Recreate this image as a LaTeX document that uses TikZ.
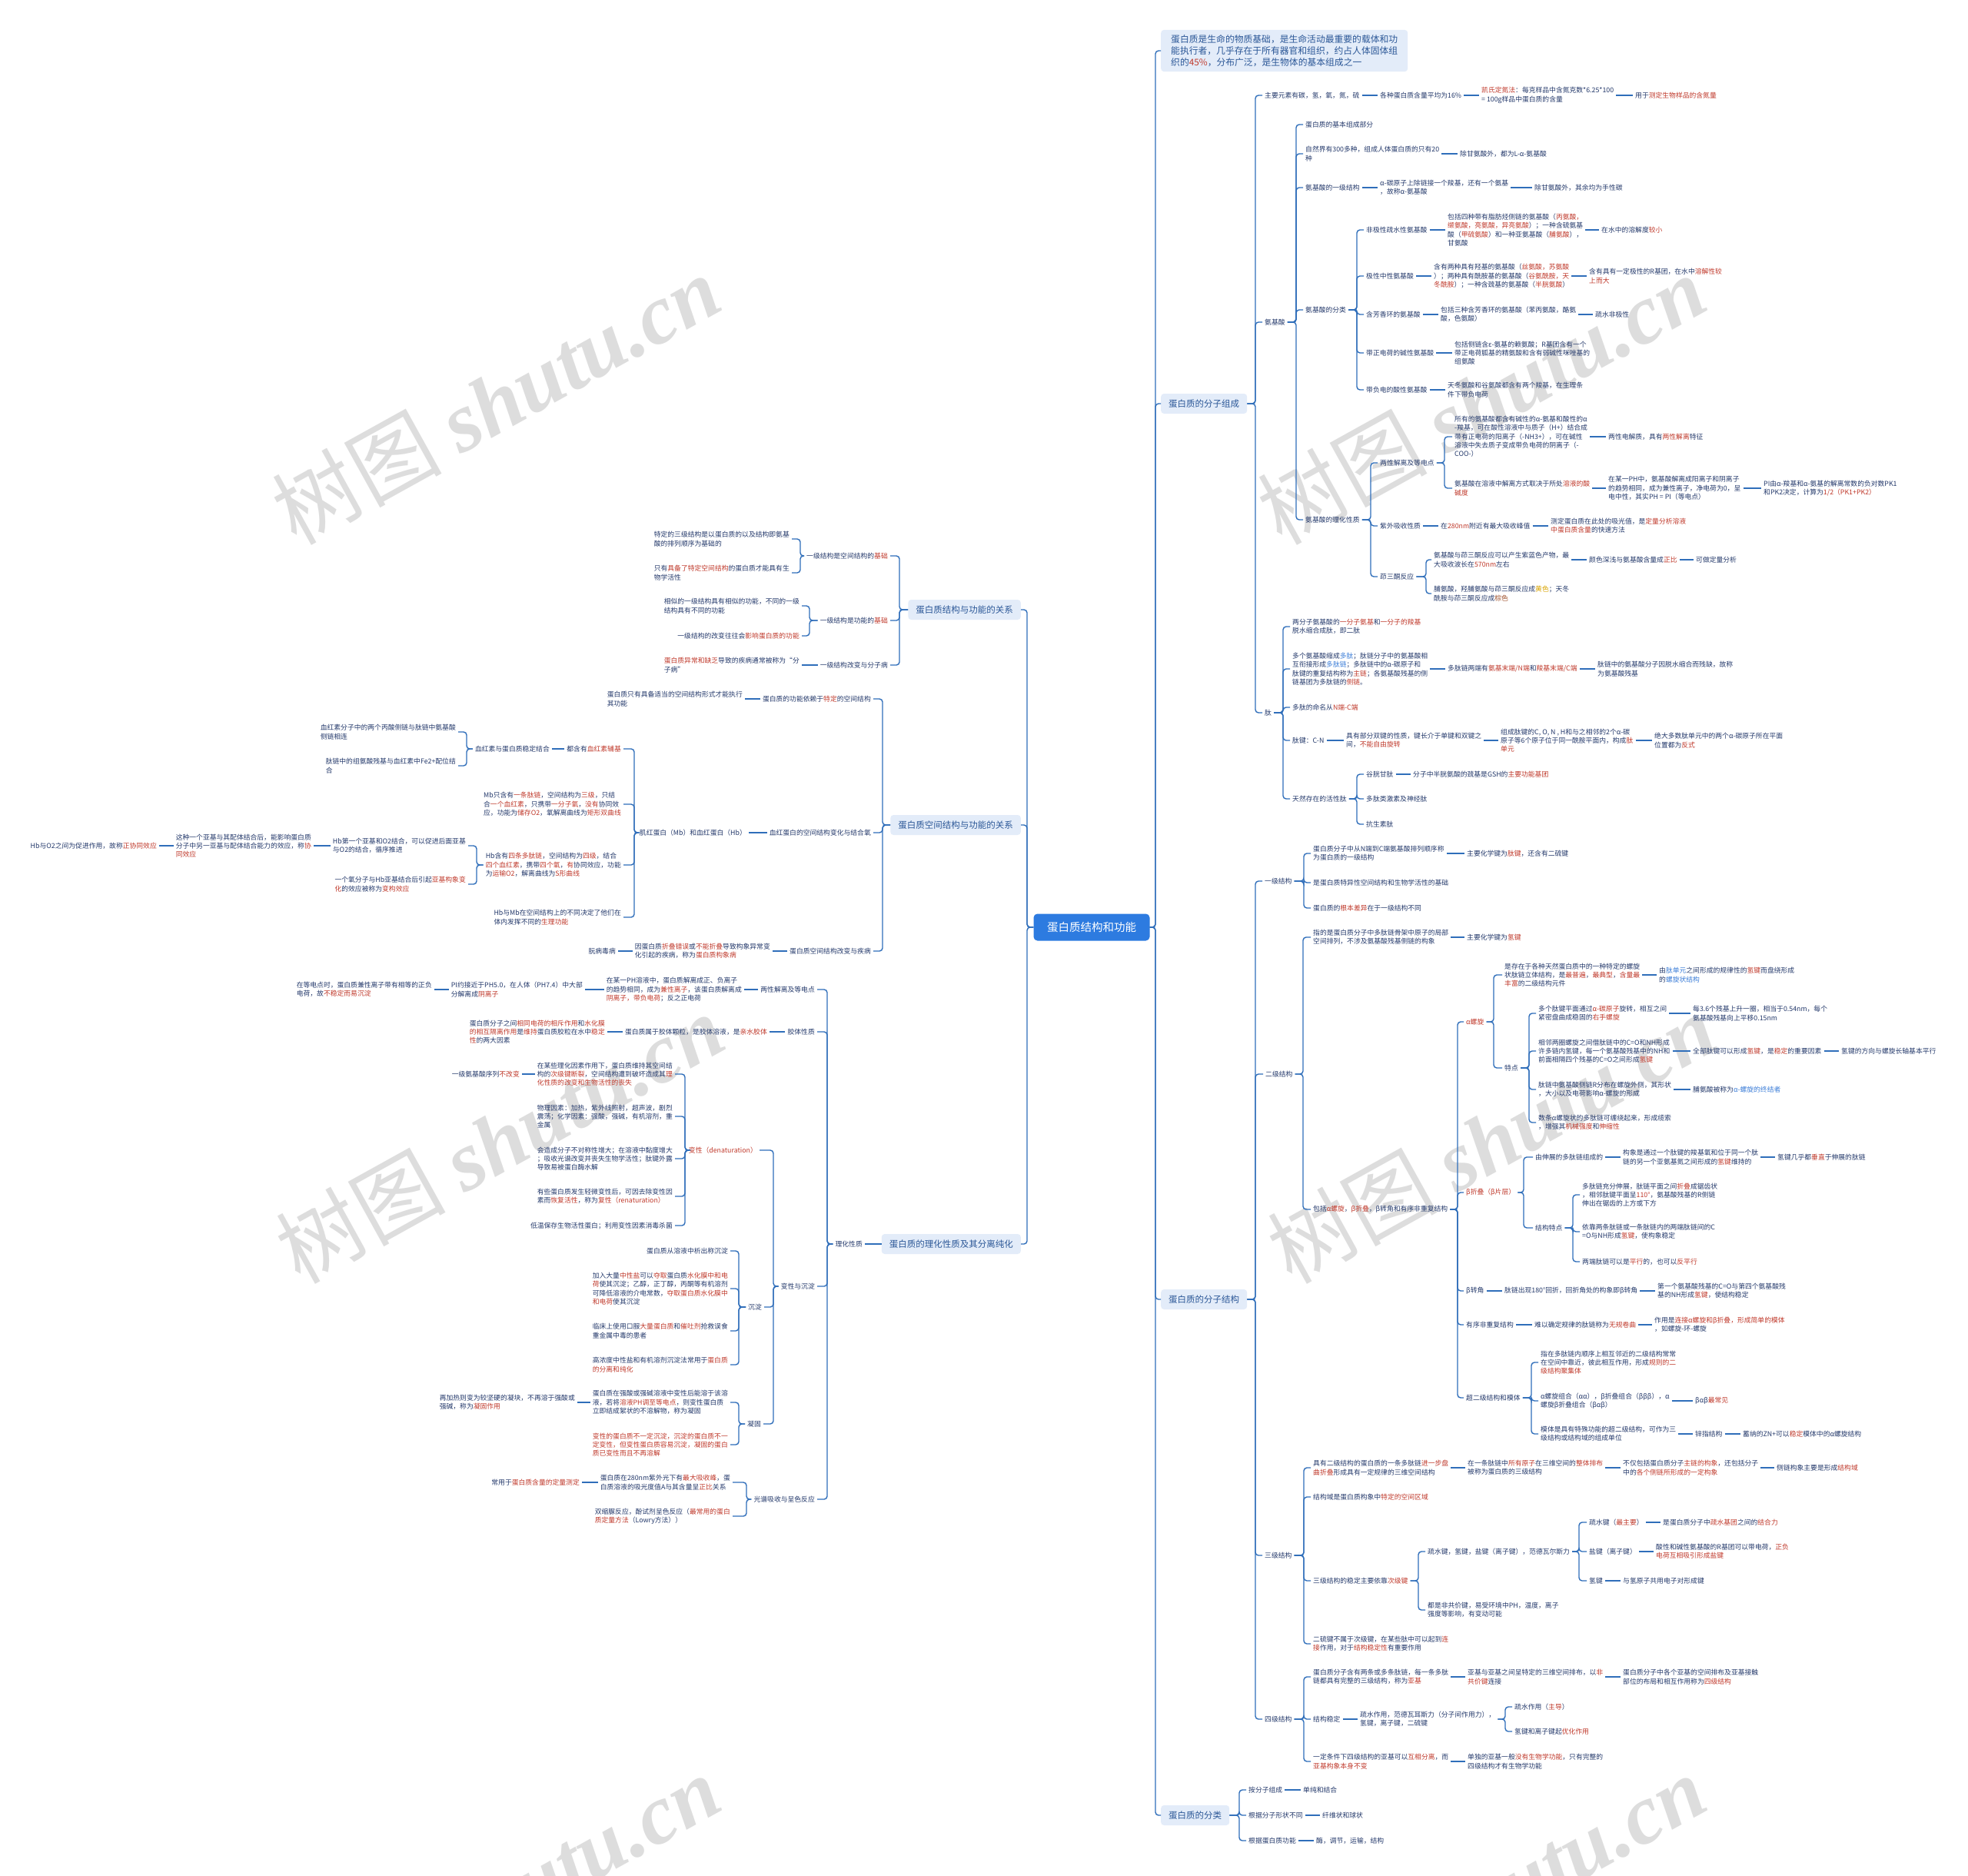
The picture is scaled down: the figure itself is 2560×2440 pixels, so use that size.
\documentclass[tikz,border=0pt]{standalone}
\usepackage{fontspec}
\setmainfont{Noto Sans CJK SC}
\newfontfamily\wmserif{Liberation Serif}
\definecolor{tx}{HTML}{24396B}
\definecolor{hl}{HTML}{C0392B}
\definecolor{hb}{HTML}{3B7DD8}
\definecolor{lc}{HTML}{2F6EBA}
\definecolor{bf}{HTML}{E3ECF9}
\definecolor{bt}{HTML}{2B5797}
\definecolor{rf}{HTML}{2D7BE0}
\definecolor{yl}{HTML}{D9A400}
\definecolor{bn}{HTML}{A0522D}
\newcommand\Rd[1]{\textcolor{hl}{#1}}
\newcommand\Bl[1]{\textcolor{hb}{#1}}
\newcommand\cnR[3]{\path (#3,0) coordinate (tmpx);\draw[conn] (#1.east) -- (#1.east -| tmpx) |- (#2.west);}
\newcommand\cnL[3]{\path (#3,0) coordinate (tmpx);\draw[conn] (#1.west) -- (#1.west -| tmpx) |- (#2.east);}
\newcommand\cnS[2]{\draw[conn] (#1.east) -- (#2.west);}
\newcommand\cnSL[2]{\draw[conn] (#1.west) -- (#2.east);}
\begin{document}
\begin{tikzpicture}[x=1pt,y=-1pt,
 nd/.style={anchor=west, xshift=-3pt, inner xsep=3pt, inner ysep=1pt, align=left, text=tx, font=\fontsize{8.8}{11.3}\selectfont},
 ndl/.style={nd, anchor=east, xshift=3pt},
 br/.style={fill=bf, rounded corners=4pt, text=bt, font=\fontsize{11.5}{14}\selectfont, inner xsep=10pt, inner ysep=0pt, minimum height=26pt},
 root/.style={fill=rf, text=white, rounded corners=5pt, font=\fontsize{14.5}{16}\selectfont, minimum width=151pt, minimum height=35pt, inner sep=0pt},
 conn/.style={draw=lc, line width=1.4pt, rounded corners=4pt},
 wm/.style={text=black!22, text opacity=0.6, font=\fontsize{110}{110}\selectfont, rotate=29}]
\useasboundingbox (0,0) rectangle (2560,2440);
\fill[white] (0,0) rectangle (2560,2440);

% watermarks
\foreach \wx/\wy in {645/519, 1927/519, 650/1480, 1940/1480, 645/2470, 1927/2470}
  \node[wm] at (\wx,\wy) {树图 {\wmserif\bfseries\itshape shutu.cn}};

% root
\node[root] (root) at (1420,1206) {蛋白质结构和功能};

% ===== right main branches
\node[br, anchor=west, align=left, font=\fontsize{11.8}{15}\selectfont, inner xsep=13pt, inner ysep=6.5pt] (intro) at (1510,66) {蛋白质是生命的物质基础，是生命活动最重要的载体和功\\能执行者，几乎存在于所有器官和组织，约占人体固体组\\织的\Rd{45\%}，分布广泛，是生物体的基本组成之一};
\node[br, anchor=west] (rA) at (1510,525) {蛋白质的分子组成};
\node[br, anchor=west] (rB) at (1510,1690) {蛋白质的分子结构};
\node[br, anchor=west] (rC) at (1510,2361) {蛋白质的分类};
\cnR{root}{intro}{1503}\cnR{root}{rA}{1503}\cnR{root}{rB}{1503}\cnR{root}{rC}{1503}

% ----- 分子组成
\node[nd] (a1) at (1645,124) {主要元素有碳，氢，氧，氮，硫};
\node[nd] (a1a) at (1795,124) {各种蛋白质含量平均为16\%};
\node[nd] (a1b) at (1927,124) {\Rd{凯氏定氮法}：每克样品中含氮克数*6.25*100\\= 100g样品中蛋白质的含量};
\node[nd] (a1c) at (2127,124) {用于\Rd{测定生物样品的含氮量}};
\node[nd] (a2) at (1645,419) {氨基酸};
\node[nd] (a21) at (1698,162) {蛋白质的基本组成部分};
\node[nd] (a22) at (1698,200) {自然界有300多种，组成人体蛋白质的只有20\\种};
\node[nd] (a22a) at (1899,200) {除甘氨酸外，都为L-α-氨基酸};
\node[nd] (a23) at (1698,244) {氨基酸的一级结构};
\node[nd] (a23a) at (1795,244) {α-碳原子上除链接一个羧基，还有一个氨基\\，故称α-氨基酸};
\node[nd] (a23b) at (1996,244) {除甘氨酸外，其余均为手性碳};
\node[nd] (a24) at (1698,403) {氨基酸的分类};
\node[nd] (a241) at (1777,299) {非极性疏水性氨基酸};
\node[nd] (a241a) at (1883,299) {包括四种带有脂肪烃侧链的氨基酸（\Rd{丙氨酸，}\\\Rd{缬氨酸，亮氨酸，异亮氨酸}）；一种含硫氨基\\酸（\Rd{甲硫氨酸}）和一种亚氨基酸（\Rd{脯氨酸}），\\甘氨酸};
\node[nd] (a241b) at (2083,299) {在水中的溶解度\Rd{较小}};
\node[nd] (a242) at (1777,359) {极性中性氨基酸};
\node[nd] (a242a) at (1865,359) {含有两种具有羟基的氨基酸（\Rd{丝氨酸，苏氨酸}\\）；两种具有酰胺基的氨基酸（\Rd{谷氨酰胺，天}\\\Rd{冬酰胺}）；一种含巯基的氨基酸（\Rd{半胱氨酸}）};
\node[nd] (a242b) at (2067,359) {含有具有一定极性的R基团，在水中\Rd{溶解性较}\\\Rd{上而大}};
\node[nd] (a243) at (1777,409) {含芳香环的氨基酸};
\node[nd] (a243a) at (1874,409) {包括三种含芳香环的氨基酸（苯丙氨酸，酪氨\\酸，色氨酸）};
\node[nd] (a243b) at (2075,409) {疏水非极性};
\node[nd] (a244) at (1777,459) {带正电荷的碱性氨基酸};
\node[nd] (a244a) at (1892,459) {包括侧链含ε-氨基的赖氨酸；R基团含有一个\\带正电荷胍基的精氨酸和含有弱碱性咪唑基的\\组氨酸};
\node[nd] (a245) at (1777,507) {带负电的酸性氨基酸};
\node[nd] (a245a) at (1883,507) {天冬氨酸和谷氨酸都含有两个羧基，在生理条\\件下带负电荷};
\node[nd] (a25) at (1698,676) {氨基酸的理化性质};
\node[nd] (a251) at (1795,602) {两性解离及等电点};
\node[nd] (a2511) at (1892,568) {所有的氨基酸都含有碱性的α-氨基和酸性的α\\-羧基，可在酸性溶液中与质子（H+）结合成\\带有正电荷的阳离子（-NH3+），可在碱性\\溶液中失去质子变成带负电荷的阴离子（-\\COO-）};
\node[nd] (a2511a) at (2092,568) {两性电解质，具有\Rd{两性解离}特征};
\node[nd] (a2512) at (1892,635) {氨基酸在溶液中解离方式取决于所处\Rd{溶液的酸}\\\Rd{碱度}};
\node[nd] (a2512a) at (2092,635) {在某一PH中，氨基酸解离成阳离子和阴离子\\的趋势相同，成为兼性离子，净电荷为0，呈\\电中性，其实PH = PI（等电点）};
\node[nd] (a2512b) at (2294,635) {PI由α-羧基和α-氨基的解离常数的负对数PK1\\和PK2决定，计算为\Rd{1/2（PK1+PK2）}};
\node[nd] (a252) at (1795,684) {紫外吸收性质};
\node[nd] (a252a) at (1874,684) {在\Rd{280nm}附近有最大吸收峰值};
\node[nd] (a252b) at (2017,684) {测定蛋白质在此处的吸光值，是\Rd{定量分析溶液}\\\Rd{中蛋白质含量}的快速方法};
\node[nd] (a253) at (1795,750) {茚三酮反应};
\node[nd] (a2531) at (1865,728) {氨基酸与茚三酮反应可以产生紫蓝色产物，最\\大吸收波长在\Rd{570nm}左右};
\node[nd] (a2531a) at (2067,728) {颜色深浅与氨基酸含量成\Rd{正比}};
\node[nd] (a2531b) at (2206,728) {可做定量分析};
\node[nd] (a2532) at (1865,772) {脯氨酸，羟脯氨酸与茚三酮反应成\textcolor{yl}{黄色}；天冬\\酰胺与茚三酮反应成\textcolor{bn}{棕色}};
\node[nd] (a3) at (1645,927) {肽};
\node[nd] (a31) at (1681,815) {两分子氨基酸的\Rd{一分子氨基}和\Rd{一分子的羧基}\\脱水缩合成肽，即二肽};
\node[nd] (a32) at (1681,870) {多个氨基酸缩成\Bl{多肽}；肽链分子中的氨基酸相\\互衔接形成\Bl{多肽链}；多肽链中的α-碳原子和\\肽键的重复结构称为\Rd{主链}；各氨基酸残基的侧\\链基团为多肽链的\Rd{侧链}。};
\node[nd] (a32a) at (1883,870) {多肽链两端有\Rd{氨基末端/N端}和\Rd{羧基末端/C端}};
\node[nd] (a32b) at (2078,870) {肽链中的氨基酸分子因脱水缩合而残缺，故称\\为氨基酸残基};
\node[nd] (a33) at (1681,920) {多肽的命名从\Rd{N端-C端}};
\node[nd] (a34) at (1681,963) {肽键：C-N};
\node[nd] (a34a) at (1751,963) {具有部分双键的性质，键长介于单键和双键之\\间，\Rd{不能自由旋转}};
\node[nd] (a34b) at (1952,963) {组成肽键的C, O, N , H和与之相邻的2个α-碳\\原子等6个原子位于同一酰胺平面内，构成\Rd{肽}\\\Rd{单元}};
\node[nd] (a34c) at (2152,963) {绝大多数肽单元中的两个α-碳原子所在平面\\位置都为\Rd{反式}};
\node[nd] (a35) at (1681,1039) {天然存在的活性肽};
\node[nd] (a351) at (1777,1007) {谷胱甘肽};
\node[nd] (a351a) at (1838,1007) {分子中半胱氨酸的巯基是GSH的\Rd{主要功能基团}};
\node[nd] (a352) at (1777,1039) {多肽类激素及神经肽};
\node[nd] (a353) at (1777,1072) {抗生素肽};

\cnR{rA}{a1}{1633}\cnR{rA}{a2}{1633}\cnR{rA}{a3}{1633}
\cnS{a1}{a1a}\cnS{a1a}{a1b}\cnS{a1b}{a1c}
\cnR{a2}{a21}{1686}\cnR{a2}{a22}{1686}\cnR{a2}{a23}{1686}\cnR{a2}{a24}{1686}\cnR{a2}{a25}{1686}
\cnS{a22}{a22a}\cnS{a23}{a23a}\cnS{a23a}{a23b}
\cnR{a24}{a241}{1765}\cnR{a24}{a242}{1765}\cnR{a24}{a243}{1765}\cnR{a24}{a244}{1765}\cnR{a24}{a245}{1765}
\cnS{a241}{a241a}\cnS{a241a}{a241b}\cnS{a242}{a242a}\cnS{a242a}{a242b}\cnS{a243}{a243a}\cnS{a243a}{a243b}\cnS{a244}{a244a}\cnS{a245}{a245a}
\cnR{a25}{a251}{1783}\cnR{a25}{a252}{1783}\cnR{a25}{a253}{1783}
\cnR{a251}{a2511}{1879}\cnR{a251}{a2512}{1879}
\cnS{a2511}{a2511a}\cnS{a2512}{a2512a}\cnS{a2512a}{a2512b}
\cnS{a252}{a252a}\cnS{a252a}{a252b}
\cnR{a253}{a2531}{1855}\cnR{a253}{a2532}{1855}
\cnS{a2531}{a2531a}\cnS{a2531a}{a2531b}
\cnR{a3}{a31}{1669}\cnR{a3}{a32}{1669}\cnR{a3}{a33}{1669}\cnR{a3}{a34}{1669}\cnR{a3}{a35}{1669}
\cnS{a32}{a32a}\cnS{a32a}{a32b}\cnS{a34}{a34a}\cnS{a34a}{a34b}\cnS{a34b}{a34c}
\cnR{a35}{a351}{1765}\cnR{a35}{a352}{1765}\cnR{a35}{a353}{1765}
\cnS{a351}{a351a}

% ----- 分子结构
\node[nd] (b1) at (1645,1146) {一级结构};
\node[nd] (b11) at (1708,1110) {蛋白质分子中从N端到C端氨基酸排列顺序称\\为蛋白质的一级结构};
\node[nd] (b11a) at (1908,1110) {主要化学键为\Rd{肽键}，还含有二硫键};
\node[nd] (b12) at (1708,1148) {是蛋白质特异性空间结构和生物学活性的基础};
\node[nd] (b13) at (1708,1181) {蛋白质的\Rd{根本差异}在于一级结构不同};
\node[nd] (b2) at (1646,1397) {二级结构};
\node[nd] (b21) at (1708,1219) {指的是蛋白质分子中多肽链骨架中原子的局部\\空间排列，不涉及氨基酸残基侧链的构象};
\node[nd] (b21a) at (1908,1219) {主要化学键为\Rd{氢键}};
\node[nd] (b22) at (1708,1573) {包括\Rd{α螺旋}，\Rd{β折叠}，β转角和有序非重复结构};
\node[nd] (b221) at (1907,1329) {\Rd{α螺旋}};
\node[nd] (b2211) at (1957,1268) {是存在于各种天然蛋白质中的一种特定的螺旋\\状肽链立体结构，是\Rd{最普遍}，\Rd{最典型}，\Rd{含量最}\\\Rd{丰富}的二级结构元件};
\node[nd] (b2211a) at (2158,1268) {由\Bl{肽单元}之间形成的规律性的\Rd{氢键}而盘绕形成\\的\Bl{螺旋状结构}};
\node[nd] (b2212) at (1957,1389) {特点};
\node[nd] (b22121) at (2001,1318) {多个肽键平面通过\Rd{α-碳原子}旋转，相互之间\\紧密盘曲成稳固的\Rd{右手螺旋}};
\node[nd] (b22121a) at (2202,1318) {每3.6个残基上升一圈，相当于0.54nm，每个\\氨基酸残基向上平移0.15nm};
\node[nd] (b22122) at (2001,1367) {相邻两圈螺旋之间借肽链中的C=O和NH形成\\许多链内氢键，每一个氨基酸残基中的NH和\\前面相隔四个残基的C=O之间形成\Rd{氢键}};
\node[nd] (b22122a) at (2202,1367) {全部肽键可以形成\Rd{氢键}，是\Rd{稳定}的重要因素};
\node[nd] (b22122b) at (2395,1367) {氢键的方向与螺旋长轴基本平行};
\node[nd] (b22123) at (2001,1417) {肽链中氨基酸侧链R分布在螺旋外侧，其形状\\，大小以及电荷影响α-螺旋的形成};
\node[nd] (b22123a) at (2202,1417) {脯氨酸被称为\Bl{α-螺旋的终结者}};
\node[nd] (b22124) at (2001,1460) {数条α螺旋状的多肽链可缠绕起来，形成缆索\\，增强其\Rd{机械强度}和\Rd{伸缩性}};
\node[nd] (b222) at (1907,1551) {\Rd{β折叠（β片层）}};
\node[nd] (b2221) at (1997,1505) {由伸展的多肽链组成的};
\node[nd] (b2221a) at (2111,1505) {构象是通过一个肽键的羧基氧和位于同一个肽\\链的另一个亚氨基氮之间形成的\Rd{氢键}维持的};
\node[nd] (b2221b) at (2312,1505) {氢键几乎都\Rd{垂直}于伸展的肽链};
\node[nd] (b2222) at (1997,1597) {结构特点};
\node[nd] (b22221) at (2058,1554) {多肽链充分伸展，肽链平面之间\Rd{折叠}成锯齿状\\，相邻肽键平面呈\Rd{110°}，氨基酸残基的R侧链\\伸出在锯齿的上方或下方};
\node[nd] (b22222) at (2058,1602) {依靠两条肽链或一条肽链内的两端肽链间的C\\=O与NH形成\Rd{氢键}，使构象稳定};
\node[nd] (b22223) at (2058,1641) {两端肽链可以是\Rd{平行}的，也可以\Rd{反平行}};
\node[nd] (b223) at (1907,1679) {β转角};
\node[nd] (b223a) at (1957,1679) {肽链出现180°回折，回折角处的构象即β转角};
\node[nd] (b223b) at (2156,1679) {第一个氨基酸残基的C=O与第四个氨基酸残\\基的NH形成\Rd{氢键}，使结构稳定};
\node[nd] (b224) at (1907,1723) {有序非重复结构};
\node[nd] (b224a) at (1996,1723) {难以确定规律的肽链称为\Rd{无规卷曲}};
\node[nd] (b224b) at (2152,1723) {作用是\Rd{连接α螺旋和β折叠，形成简单的模体}\\，如螺旋-环-螺旋};
\node[nd] (b225) at (1907,1818) {超二级结构和模体};
\node[nd] (b2251) at (2004,1772) {指在多肽链内顺序上相互邻近的二级结构常常\\在空间中靠近，彼此相互作用，形成\Rd{规则的二}\\\Rd{级结构聚集体}};
\node[nd] (b2252) at (2004,1822) {α螺旋组合（αα），β折叠组合（βββ），α\\螺旋β折叠组合（βαβ）};
\node[nd] (b2252a) at (2205,1822) {βαβ\Rd{最常见}};
\node[nd] (b2253) at (2004,1865) {模体是具有特殊功能的超二级结构，可作为三\\级结构或结构域的组成单位};
\node[nd] (b2253a) at (2205,1865) {锌指结构};
\node[nd] (b2253b) at (2267,1865) {蓄纳的ZN+可以\Rd{稳定}模体中的α螺旋结构};
\node[nd] (b3) at (1645,2023) {三级结构};
\node[nd] (b31) at (1708,1909) {具有二级结构的蛋白质的一条多肽链\Rd{进一步盘}\\\Rd{曲折叠}形成具有一定规律的三维空间结构};
\node[nd] (b31a) at (1909,1909) {在一条肽链中\Rd{所有原子}在三维空间的\Rd{整体排布}\\被称为蛋白质的三级结构};
\node[nd] (b31b) at (2111,1909) {不仅包括蛋白质分子\Rd{主链的构象}，还包括分子\\中的\Rd{各个侧链所形成的一定构象}};
\node[nd] (b31c) at (2311,1909) {侧链构象主要是形成\Rd{结构域}};
\node[nd] (b32) at (1708,1947) {结构域是蛋白质构象中\Rd{特定的空间区域}};
\node[nd] (b33) at (1708,2056) {三级结构的稳定主要依靠\Rd{次级键}};
\node[nd] (b331) at (1857,2018) {疏水键，氢键，盐键（离子键），范德瓦尔斯力};
\node[nd] (b3311) at (2067,1980) {疏水键（\Rd{最主要}）};
\node[nd] (b3311a) at (2163,1980) {是蛋白质分子中\Rd{疏水基团}之间的\Rd{结合力}};
\node[nd] (b3312) at (2067,2018) {盐键（离子键）};
\node[nd] (b3312a) at (2154,2018) {酸性和碱性氨基酸的R基团可以带电荷，\Rd{正负}\\\Rd{电荷互相吸引形成盐键}};
\node[nd] (b3313) at (2067,2056) {氢键};
\node[nd] (b3313a) at (2111,2056) {与氢原子共用电子对形成键};
\node[nd] (b332) at (1857,2094) {都是非共价键，易受环境中PH，温度，离子\\强度等影响，有变动可能};
\node[nd] (b34) at (1708,2138) {二硫键不属于次级键，在某些肽中可以起到\Rd{连}\\\Rd{接}作用，对于\Rd{结构稳定性}有重要作用};
\node[nd] (b4) at (1645,2236) {四级结构};
\node[nd] (b41) at (1708,2181) {蛋白质分子含有两条或多条肽链，每一条多肽\\链都具有完整的三级结构，称为\Rd{亚基}};
\node[nd] (b41a) at (1909,2181) {亚基与亚基之间呈特定的三维空间排布，以\Rd{非}\\\Rd{共价键}连接};
\node[nd] (b41b) at (2111,2181) {蛋白质分子中各个亚基的空间排布及亚基接触\\部位的布局和相互作用称为\Rd{四级结构}};
\node[nd] (b42) at (1708,2236) {结构稳定};
\node[nd] (b42a) at (1769,2236) {疏水作用，范德瓦耳斯力（分子间作用力），\\氢键，离子键，二硫键};
\node[nd] (b42a1) at (1970,2220) {疏水作用（\Rd{主导}）};
\node[nd] (b42a2) at (1970,2252) {氢键和离子键起\Rd{优化作用}};
\node[nd] (b43) at (1708,2291) {一定条件下四级结构的亚基可以\Rd{互相分离}，而\\\Rd{亚基构象本身不变}};
\node[nd] (b43a) at (1909,2291) {单独的亚基一般\Rd{没有生物学功能}，只有完整的\\四级结构才有生物学功能};

\cnR{rB}{b1}{1633}\cnR{rB}{b2}{1633}\cnR{rB}{b3}{1633}\cnR{rB}{b4}{1633}
\cnR{b1}{b11}{1696}\cnR{b1}{b12}{1696}\cnR{b1}{b13}{1696}\cnS{b11}{b11a}
\cnR{b2}{b21}{1695}\cnR{b2}{b22}{1695}\cnS{b21}{b21a}
\cnR{b22}{b221}{1896}\cnR{b22}{b222}{1896}\cnR{b22}{b223}{1896}\cnR{b22}{b224}{1896}\cnR{b22}{b225}{1896}
\cnR{b221}{b2211}{1943}\cnR{b221}{b2212}{1943}\cnS{b2211}{b2211a}
\cnR{b2212}{b22121}{1989}\cnR{b2212}{b22122}{1989}\cnR{b2212}{b22123}{1989}\cnR{b2212}{b22124}{1989}
\cnS{b22121}{b22121a}\cnS{b22122}{b22122a}\cnS{b22122a}{b22122b}\cnS{b22123}{b22123a}
\cnR{b222}{b2221}{1982}\cnR{b222}{b2222}{1982}\cnS{b2221}{b2221a}\cnS{b2221a}{b2221b}
\cnR{b2222}{b22221}{2046}\cnR{b2222}{b22222}{2046}\cnR{b2222}{b22223}{2046}
\cnS{b223}{b223a}\cnS{b223a}{b223b}\cnS{b224}{b224a}\cnS{b224a}{b224b}
\cnR{b225}{b2251}{1992}\cnR{b225}{b2252}{1992}\cnR{b225}{b2253}{1992}
\cnS{b2252}{b2252a}\cnS{b2253}{b2253a}\cnS{b2253a}{b2253b}
\cnR{b3}{b31}{1696}\cnR{b3}{b32}{1696}\cnR{b3}{b33}{1696}\cnR{b3}{b34}{1696}
\cnS{b31}{b31a}\cnS{b31a}{b31b}\cnS{b31b}{b31c}
\cnR{b33}{b331}{1845}\cnR{b33}{b332}{1845}
\cnR{b331}{b3311}{2054}\cnR{b331}{b3312}{2054}\cnR{b331}{b3313}{2054}
\cnS{b3311}{b3311a}\cnS{b3312}{b3312a}\cnS{b3313}{b3313a}
\cnR{b4}{b41}{1696}\cnR{b4}{b42}{1696}\cnR{b4}{b43}{1696}
\cnS{b41}{b41a}\cnS{b41a}{b41b}\cnS{b42}{b42a}\cnS{b43}{b43a}
\cnR{b42a}{b42a1}{1958}\cnR{b42a}{b42a2}{1958}

% ----- 分类
\node[nd] (c1) at (1624,2328) {按分子组成};
\node[nd] (c1a) at (1695,2328) {单纯和结合};
\node[nd] (c2) at (1624,2361) {根据分子形状不同};
\node[nd] (c2a) at (1720,2361) {纤维状和球状};
\node[nd] (c3) at (1624,2394) {根据蛋白质功能};
\node[nd] (c3a) at (1712,2394) {酶，调节，运输，结构};
\cnR{rC}{c1}{1612}\cnR{rC}{c2}{1612}\cnR{rC}{c3}{1612}
\cnS{c1}{c1a}\cnS{c2}{c2a}\cnS{c3}{c3a}

% ===== left main branches
\node[br, anchor=east] (L1) at (1328,793) {蛋白质结构与功能的关系};
\node[br, anchor=east] (L2) at (1328,1073) {蛋白质空间结构与功能的关系};
\node[br, anchor=east] (L3) at (1328,1618) {蛋白质的理化性质及其分离纯化};
\cnL{root}{L1}{1336}\cnL{root}{L2}{1336}\cnL{root}{L3}{1336}

\node[ndl] (L11) at (1158,723) {一级结构是空间结构的\Rd{基础}};
\node[ndl] (L111) at (1030,701) {特定的三级结构是以蛋白质的以及结构即氨基\\酸的排列顺序为基础的};
\node[ndl] (L112) at (1030,745) {只有\Rd{具备了特定空间结构}的蛋白质才能具有生\\物学活性};
\node[ndl] (L12) at (1158,807) {一级结构是功能的\Rd{基础}};
\node[ndl] (L121) at (1043,788) {相似的一级结构具有相似的功能，不同的一级\\结构具有不同的功能};
\node[ndl] (L122) at (1043,827) {一级结构的改变往往会\Rd{影响蛋白质的功能}};
\node[ndl] (L13) at (1158,865) {一级结构改变与分子病};
\node[ndl] (L13a) at (1043,865) {\Rd{蛋白质异常和缺乏}导致的疾病通常被称为“分\\子病”};
\cnL{L1}{L11}{1170}\cnL{L1}{L12}{1170}\cnL{L1}{L13}{1170}
\cnL{L11}{L111}{1041}\cnL{L11}{L112}{1041}
\cnL{L12}{L121}{1053}\cnL{L12}{L122}{1053}
\cnSL{L13}{L13a}

\node[ndl] (L21) at (1136,909) {蛋白质的功能依赖于\Rd{特定}的空间结构};
\node[ndl] (L21a) at (969,909) {蛋白质只有具备适当的空间结构形式才能执行\\其功能};
\node[ndl] (L22) at (1136,1083) {血红蛋白的空间结构变化与结合氧};
\node[ndl] (L22a) at (974,1083) {肌红蛋白（Mb）和血红蛋白（Hb）};
\node[ndl] (L22a1) at (811,974) {都含有\Rd{血红素辅基}};
\node[ndl] (L22a1a) at (718,974) {血红素与蛋白质稳定结合};
\node[ndl] (L22a1a1) at (596,952) {血红素分子中的两个丙酸侧链与肽链中氨基酸\\侧链相连};
\node[ndl] (L22a1a2) at (596,996) {肽链中的组氨酸残基与血红素中Fe2+配位结\\合};
\node[ndl] (L22a2) at (811,1046) {Mb只含有\Rd{一条肽链}，空间结构为\Rd{三级}，只结\\合\Rd{一个血红素}，只携带\Rd{一分子氧}，\Rd{没有}协同效\\应，功能为\Rd{储存O2}，氧解离曲线为\Rd{矩形双曲线}};
\node[ndl] (L22a3) at (811,1125) {Hb含有\Rd{四条多肽链}，空间结构为\Rd{四级}，结合\\\Rd{四个血红素}，携带\Rd{四个氧}，\Rd{有}协同效应，功能\\为\Rd{运输O2}，解离曲线为\Rd{S形曲线}};
\node[ndl] (L22a31) at (609,1100) {Hb第一个亚基和O2结合，可以促进后面亚基\\与O2的结合，循序推进};
\node[ndl] (L22a31a) at (408,1100) {这种一个亚基与其配体结合后，能影响蛋白质\\分子中另一亚基与配体结合能力的效应，称\Rd{协}\\\Rd{同效应}};
\node[ndl] (L22a31b) at (207,1100) {Hb与O2之间为促进作用，故称\Rd{正协同效应}};
\node[ndl] (L22a32) at (609,1150) {一个氧分子与Hb亚基结合后引起\Rd{亚基构象变}\\\Rd{化}的效应被称为\Rd{变构效应}};
\node[ndl] (L22a4) at (811,1193) {Hb与Mb在空间结构上的不同决定了他们在\\体内发挥不同的\Rd{生理功能}};
\node[ndl] (L23) at (1136,1237) {蛋白质空间结构改变与疾病};
\node[ndl] (L23a) at (1005,1237) {因蛋白质\Rd{折叠错误}或\Rd{不能折叠}导致构象异常变\\化引起的疾病，称为\Rd{蛋白质构象病}};
\node[ndl] (L23b) at (804,1237) {朊病毒病};
\cnL{L2}{L21}{1148}\cnL{L2}{L22}{1148}\cnL{L2}{L23}{1148}
\cnSL{L21}{L21a}\cnSL{L22}{L22a}
\cnL{L22a}{L22a1}{825}\cnL{L22a}{L22a2}{825}\cnL{L22a}{L22a3}{825}\cnL{L22a}{L22a4}{825}
\cnSL{L22a1}{L22a1a}
\cnL{L22a1a}{L22a1a1}{607}\cnL{L22a1a}{L22a1a2}{607}
\cnL{L22a3}{L22a31}{620}\cnL{L22a3}{L22a32}{620}
\cnSL{L22a31}{L22a31a}\cnSL{L22a31a}{L22a31b}
\cnSL{L23}{L23a}\cnSL{L23a}{L23b}

\node[ndl] (L31) at (1125,1618) {理化性质};
\node[ndl] (L311) at (1063,1287) {两性解离及等电点};
\node[ndl] (L311a) at (968,1287) {在某一PH溶液中，蛋白质解离成正、负离子\\的趋势相同，成为\Rd{兼性离子}，该蛋白质解离成\\\Rd{阴离子，带负电荷}；反之正电荷};
\node[ndl] (L311b) at (761,1287) {PI约接近于PH5.0，在人体（PH7.4）中大部\\分解离成\Rd{阴离子}};
\node[ndl] (L311c) at (565,1287) {在等电点时，蛋白质兼性离子带有相等的正负\\电荷，故\Rd{不稳定而易沉淀}};
\node[ndl] (L312) at (1063,1342) {胶体性质};
\node[ndl] (L312a) at (1001,1342) {蛋白质属于胶体颗粒，是胶体溶液，是\Rd{亲水胶体}};
\node[ndl] (L312b) at (790,1342) {蛋白质分子之间\Rd{相同电荷的相斥作用}和\Rd{水化膜}\\\Rd{的相互隔离作用}是\Rd{维持}蛋白质胶粒在水中\Rd{稳定}\\\Rd{性}的两大因素};
\node[ndl] (L313) at (1063,1673) {变性与沉淀};
\node[ndl] (L3131) at (988,1496) {\Rd{变性（denaturation）}};
\node[ndl] (L31311) at (878,1397) {在某些理化因素作用下，蛋白质维持其空间结\\构的\Rd{次级键断裂}，空间结构遭到破坏造成其\Rd{理}\\\Rd{化性质的改变和生物活性的丧失}};
\node[ndl] (L31311a) at (679,1397) {一级氨基酸序列\Rd{不改变}};
\node[ndl] (L31312) at (878,1452) {物理因素：加热，紫外线照射，超声波，剧烈\\震荡；化学因素：强酸，强碱，有机溶剂，重\\金属};
\node[ndl] (L31313) at (878,1507) {会造成分子不对称性增大；在溶液中黏度增大\\；吸收光谱改变并丧失生物学活性；肽键外露\\导致易被蛋白酶水解};
\node[ndl] (L31314) at (878,1556) {有些蛋白质发生轻微变性后，可因去除变性因\\素而\Rd{恢复活性}，称为\Rd{复性（renaturation）}};
\node[ndl] (L31315) at (878,1594) {低温保存生物活性蛋白；利用变性因素消毒杀菌};
\node[ndl] (L3132) at (994,1700) {沉淀};
\node[ndl] (L31321) at (950,1627) {蛋白质从溶液中析出称沉淀};
\node[ndl] (L31322) at (950,1676) {加入大量\Rd{中性盐}可以\Rd{夺取}蛋白质\Rd{水化膜中和电}\\\Rd{荷}使其沉淀；乙醇，正丁醇，丙酮等有机溶剂\\可降低溶液的介电常数，\Rd{夺取蛋白质水化膜中}\\\Rd{和电荷}使其沉淀};
\node[ndl] (L31323) at (950,1731) {临床上使用口服\Rd{大量蛋白质}和\Rd{催吐剂}抢救误食\\重金属中毒的患者};
\node[ndl] (L31324) at (950,1775) {高浓度中性盐和有机溶剂沉淀法常用于\Rd{蛋白质}\\\Rd{的分离和纯化}};
\node[ndl] (L3133) at (993,1852) {凝固};
\node[ndl] (L31331) at (950,1824) {蛋白质在强酸或强碱溶液中变性后能溶于该溶\\液，若将\Rd{溶液PH调至等电点}，则变性蛋白质\\立即结成絮状的不溶解物，称为凝固};
\node[ndl] (L31331a) at (751,1824) {再加热则变为较坚硬的凝块，不再溶于强酸或\\强碱，称为\Rd{凝固作用}};
\node[ndl] (L31332) at (950,1879) {\Rd{变性的蛋白质不一定沉淀，沉淀的蛋白质不一}\\\Rd{定变性，但变性蛋白质容易沉淀，凝固的蛋白}\\\Rd{质已变性而且不再溶解}};
\node[ndl] (L314) at (1063,1950) {光谱吸收与呈色反应};
\node[ndl] (L3141) at (953,1928) {蛋白质在280nm紫外光下有\Rd{最大吸收峰}，蛋\\白质溶液的吸光度值A与其含量呈\Rd{正比}关系};
\node[ndl] (L3141a) at (757,1928) {常用于\Rd{蛋白质含量的定量测定}};
\node[ndl] (L3142) at (953,1972) {双缩脲反应，酚试剂呈色反应（\Rd{最常用的蛋白}\\\Rd{质定量方法}（Lowry方法））};
\cnSL{L3}{L31}
\cnL{L31}{L311}{1076}\cnL{L31}{L312}{1076}\cnL{L31}{L313}{1076}\cnL{L31}{L314}{1076}
\cnSL{L311}{L311a}\cnSL{L311a}{L311b}\cnSL{L311b}{L311c}
\cnSL{L312}{L312a}\cnSL{L312a}{L312b}
\cnL{L313}{L3131}{1006}\cnL{L313}{L3132}{1006}\cnL{L313}{L3133}{1006}
\cnL{L3131}{L31311}{891}\cnL{L3131}{L31312}{891}\cnL{L3131}{L31313}{891}\cnL{L3131}{L31314}{891}\cnL{L3131}{L31315}{891}
\cnSL{L31311}{L31311a}
\cnL{L3132}{L31321}{961}\cnL{L3132}{L31322}{961}\cnL{L3132}{L31323}{961}\cnL{L3132}{L31324}{961}
\cnL{L3133}{L31331}{961}\cnL{L3133}{L31332}{961}
\cnSL{L31331}{L31331a}
\cnL{L314}{L3141}{971}\cnL{L314}{L3142}{971}
\cnSL{L3141}{L3141a}
\end{tikzpicture}
\end{document}
